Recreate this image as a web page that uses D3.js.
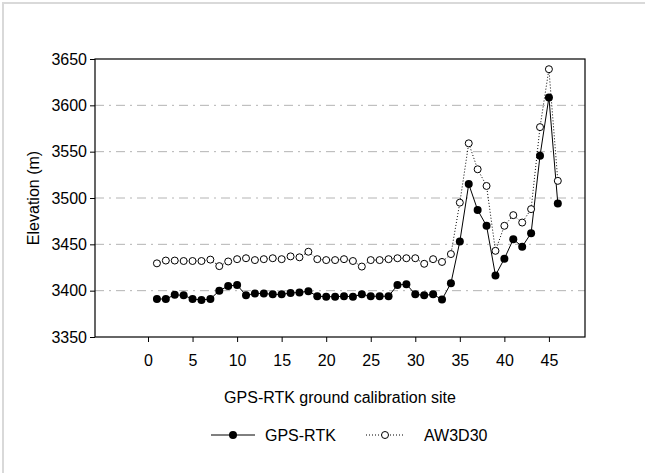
<!DOCTYPE html>
<html>
<head>
<meta charset="utf-8">
<script src="https://cdn.jsdelivr.net/npm/d3@7"></script>
<style>
  body { margin: 0; background: #fff; }
  svg { display: block; font-family: "Liberation Sans", Arial, sans-serif; }
</style>
</head>
<body>
<svg width="645" height="473"></svg>
<script>
// Data
var sites = [1, 2, 3, 4, 5, 6, 7, 8, 9, 10, 11, 12, 13, 14, 15, 16, 17, 18, 19, 20,
	21, 22, 23, 24, 25, 26, 27, 28, 29, 30, 31, 32, 33, 34, 35, 36, 37, 38, 39, 40,
	41, 42, 43, 44, 45, 46];
var gpsRtk = [3391, 3391, 3395.5, 3395, 3391, 3390, 3391, 3400, 3405, 3406,
	3395, 3397, 3397, 3396, 3396, 3397.5, 3398, 3399.5, 3394, 3393.5,
	3393.5, 3394, 3393.5, 3396, 3394, 3394, 3394, 3406, 3407, 3396,
	3395, 3396, 3390.5, 3408, 3453, 3515, 3487, 3470, 3416.5, 3434.5,
	3455.5, 3447.5, 3462, 3545.5, 3608.5, 3494];
var aw3d30 = [3429.5, 3432.5, 3432.5, 3432, 3432, 3432, 3433.5, 3426.5, 3431.5, 3434,
	3435, 3433, 3434, 3435, 3434, 3437, 3436, 3442, 3434, 3433,
	3433, 3434, 3432, 3426, 3433, 3433, 3434, 3435, 3435, 3435,
	3429, 3434, 3431, 3439.5, 3495, 3559, 3531, 3513, 3443, 3470,
	3481.5, 3473.5, 3488, 3576.5, 3639, 3518.5];
var xTicks = [0, 5, 10, 15, 20, 25, 30, 35, 40, 45];
var yTicks = [3350, 3400, 3450, 3500, 3550, 3600, 3650];
var gridTicks = [3400, 3450, 3500, 3550, 3600];
var seriesNames = ["GPS-RTK", "AW3D30"];

var svg = d3.select("svg");

// outer light border (cut off at right/bottom)
svg.append("rect")
	.attr("x", 3).attr("y", 3)
	.attr("width", 700).attr("height", 520)
	.attr("fill", "none")
	.attr("stroke", "#d9d9d9")
	.attr("stroke-width", 2);

var pLeft = 95, pRight = 585, pTop = 59, pBottom = 337;

var x = d3.scaleLinear().domain([-5.95, 49.05]).range([pLeft, pRight]);
var y = d3.scaleLinear().domain([3350, 3650]).range([pBottom, pTop]);

// grid lines
svg.append("g")
	.selectAll("line")
	.data(gridTicks).enter()
	.append("line")
	.attr("x1", pLeft).attr("x2", pRight)
	.attr("y1", function(d) { return y(d); })
	.attr("y2", function(d) { return y(d); })
	.attr("stroke", "#b4b4b4")
	.attr("stroke-width", 1)
	.attr("stroke-dasharray", "9,5,2,5");

// axes
var yAxis = svg.append("g")
	.attr("transform", "translate(" + pLeft + ",0)")
	.call(d3.axisLeft(y).tickValues(yTicks).tickFormat(d3.format("d")).tickSize(5).tickPadding(3));
var xAxis = svg.append("g")
	.attr("transform", "translate(0," + pBottom + ")")
	.call(d3.axisBottom(x).tickValues(xTicks).tickSize(5).tickPadding(13));

[yAxis, xAxis].forEach(function(a) {
	a.select(".domain").remove();
	a.selectAll("text").attr("font-size", 16).attr("fill", "#000")
		.attr("font-family", "Liberation Sans, Arial, sans-serif");
	a.selectAll("line").attr("stroke", "#000");
});

// frame
svg.append("rect")
	.attr("x", pLeft).attr("y", pTop)
	.attr("width", pRight - pLeft).attr("height", pBottom - pTop)
	.attr("fill", "none")
	.attr("stroke", "#000")
	.attr("stroke-width", 1.2);

// series
var line = d3.line()
	.x(function(d, i) { return x(sites[i]); })
	.y(function(d) { return y(d); });

svg.append("path")
	.datum(aw3d30)
	.attr("d", line)
	.attr("fill", "none")
	.attr("stroke", "#000")
	.attr("stroke-width", 1)
	.attr("stroke-dasharray", "1,2");

svg.append("path")
	.datum(gpsRtk)
	.attr("d", line)
	.attr("fill", "none")
	.attr("stroke", "#000")
	.attr("stroke-width", 1);

svg.append("g")
	.selectAll("circle")
	.data(aw3d30).enter()
	.append("circle")
	.attr("cx", function(d, i) { return x(sites[i]); })
	.attr("cy", function(d) { return y(d); })
	.attr("r", 3.5)
	.attr("fill", "#fff")
	.attr("stroke", "#000")
	.attr("stroke-width", 1);

svg.append("g")
	.selectAll("circle")
	.data(gpsRtk).enter()
	.append("circle")
	.attr("cx", function(d, i) { return x(sites[i]); })
	.attr("cy", function(d) { return y(d); })
	.attr("r", 4)
	.attr("fill", "#000");

// axis titles
svg.append("text")
	.attr("x", (pLeft + pRight) / 2).attr("y", 403)
	.attr("text-anchor", "middle")
	.attr("font-size", 16)
	.text("GPS-RTK ground calibration site");

svg.append("text")
	.attr("transform", "translate(39," + ((pTop + pBottom) / 2) + ") rotate(-90)")
	.attr("text-anchor", "middle")
	.attr("font-size", 16)
	.text("Elevation (m)");

// legend
var leg = svg.append("g").attr("transform", "translate(0,435)");
leg.append("line").attr("x1", 211).attr("x2", 255).attr("y1", 0).attr("y2", 0)
	.attr("stroke", "#000").attr("stroke-width", 1);
leg.append("circle").attr("cx", 233).attr("cy", 0).attr("r", 4).attr("fill", "#000");
leg.append("text").attr("x", 265).attr("y", 6).attr("font-size", 16).text(seriesNames[0]);
leg.append("line").attr("x1", 366).attr("x2", 404).attr("y1", 0).attr("y2", 0)
	.attr("stroke", "#000").attr("stroke-width", 1).attr("stroke-dasharray", "1,2");
leg.append("circle").attr("cx", 385).attr("cy", 0).attr("r", 3.5)
	.attr("fill", "#fff").attr("stroke", "#000");
leg.append("text").attr("x", 424).attr("y", 6).attr("font-size", 16).text(seriesNames[1]);
</script>
</body>
</html>
